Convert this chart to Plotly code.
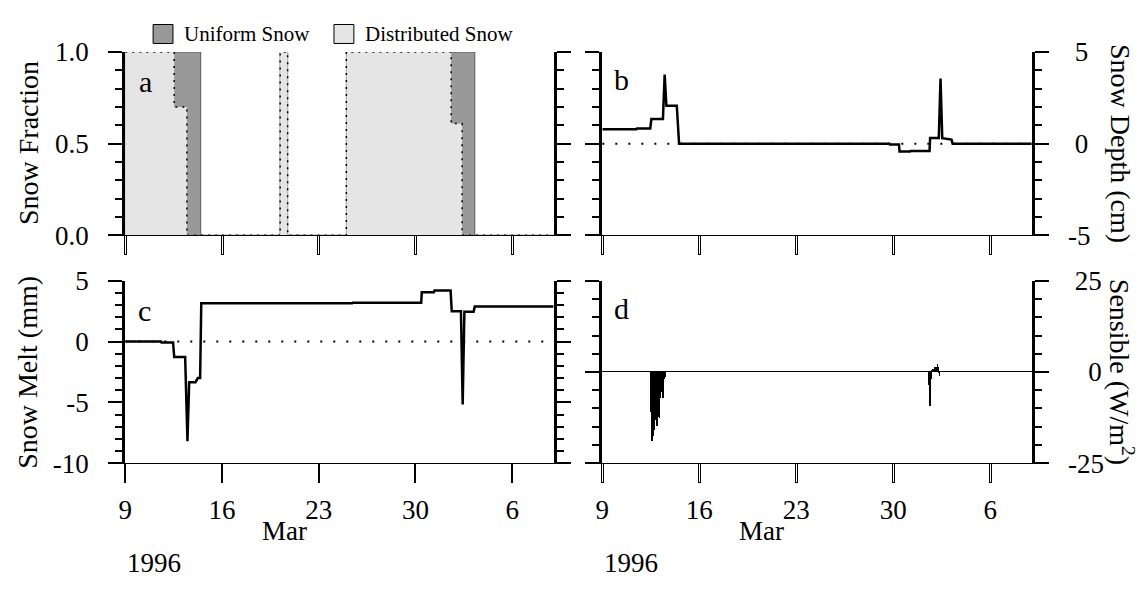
import plotly.graph_objects as go

# ---------------------------------------------------------------- data
# (a) snow-covered fraction of the grid cell
uniform_time = ["1996-03-09 00:00", "1996-03-14 11:00", "1996-03-20 05:00",
                "1996-03-20 18:00", "1996-03-25 00:00", "1996-04-03 07:00",
                "1996-04-09 00:00"]
uniform_frac = [1.0, 0.0, 1.0, 0.0, 1.0, 0.0, 0.0]

dist_time = ["1996-03-09 00:00", "1996-03-12 13:00", "1996-03-13 11:00",
             "1996-03-20 05:00", "1996-03-20 18:00", "1996-03-25 00:00",
             "1996-04-01 14:00", "1996-04-02 09:00", "1996-04-09 00:00"]
dist_frac = [1.0, 0.70, 0.0, 1.0, 0.0, 1.0, 0.61, 0.0, 0.0]

# (b) snow depth difference (cm)
depth_time = ["1996-03-09 00:00", "1996-03-11 11:00", "1996-03-11 12:00",
              "1996-03-12 11:00", "1996-03-12 13:00", "1996-03-13 09:00",
              "1996-03-13 12:00", "1996-03-13 15:00", "1996-03-14 09:00",
              "1996-03-14 13:00", "1996-03-29 17:00", "1996-03-29 18:00",
              "1996-03-30 10:00", "1996-03-30 11:00", "1996-03-31 05:00",
              "1996-03-31 06:00", "1996-04-01 15:00", "1996-04-01 16:00",
              "1996-04-02 07:00", "1996-04-02 10:00", "1996-04-02 13:00",
              "1996-04-03 05:00", "1996-04-03 07:00", "1996-04-09 00:00"]
depth_cm = [0.78, 0.78, 0.83, 0.83, 1.34, 1.34, 3.77, 2.07, 2.07, 0.0,
            0.0, -0.04, -0.04, -0.43, -0.43, -0.40, -0.40, 0.31, 0.31, 3.55,
            0.30, 0.22, 0.0, 0.0]

# (c) snow melt difference (mm)
melt_time = ["1996-03-09 00:00", "1996-03-11 14:00", "1996-03-11 15:00",
             "1996-03-12 11:00", "1996-03-12 13:00", "1996-03-13 08:00",
             "1996-03-13 12:00", "1996-03-13 15:00", "1996-03-14 02:00",
             "1996-03-14 06:00", "1996-03-14 10:00", "1996-03-14 12:00",
             "1996-03-25 10:00", "1996-03-25 11:00", "1996-03-30 10:00",
             "1996-03-30 11:00", "1996-03-31 08:00", "1996-03-31 09:00",
             "1996-04-01 13:00", "1996-04-01 15:00", "1996-04-02 07:00",
             "1996-04-02 10:00", "1996-04-02 13:00", "1996-04-03 05:00",
             "1996-04-03 07:00", "1996-04-09 00:00"]
melt_mm = [0.0, 0.0, -0.08, -0.08, -1.26, -1.26, -8.2, -3.34, -3.34, -3.0,
           -3.0, 3.15, 3.15, 3.2, 3.2, 4.06, 4.06, 4.2, 4.2, 2.49, 2.49,
           -5.17, 2.45, 2.45, 2.88, 2.88]

# (d) sensible heat flux difference, hourly (W/m2)
sens_time = ["1996-03-12 12:00", "1996-03-12 13:00", "1996-03-12 14:00",
             "1996-03-12 15:00", "1996-03-12 16:00", "1996-03-12 17:00",
             "1996-03-12 18:00", "1996-03-12 19:00", "1996-03-12 20:00",
             "1996-03-12 21:00", "1996-03-12 22:00", "1996-03-12 23:00",
             "1996-03-13 00:00", "1996-03-13 01:00", "1996-03-13 02:00",
             "1996-03-13 03:00", "1996-03-13 04:00", "1996-03-13 05:00",
             "1996-03-13 06:00", "1996-03-13 07:00", "1996-03-13 08:00",
             "1996-03-13 09:00", "1996-03-13 10:00", "1996-03-13 11:00",
             "1996-03-13 12:00", "1996-03-13 13:00", "1996-03-13 14:00",
             "1996-04-01 15:00", "1996-04-01 16:00", "1996-04-01 17:00",
             "1996-04-01 18:00", "1996-04-01 19:00", "1996-04-01 20:00",
             "1996-04-01 21:00", "1996-04-01 22:00", "1996-04-01 23:00",
             "1996-04-02 00:00", "1996-04-02 01:00", "1996-04-02 02:00",
             "1996-04-02 03:00", "1996-04-02 04:00", "1996-04-02 05:00",
             "1996-04-02 06:00", "1996-04-02 07:00", "1996-04-02 08:00",
             "1996-04-02 09:00"]
sens_wm2 = [-10.5, -11.0, -16.0, -18.9, -17.5, -17.1, -14.0, -15.8, -12.0,
            -13.2, -11.5, -14.9, -11.0, -10.5, -12.3, -9.0, -12.7, -7.0,
            -5.5, -4.0, -3.0, -2.5, -7.0, -1.5, -1.8, -0.5, -1.2,
            -3.5, -9.4, -4.4, -2.0, 0.5, 0.6, 0.9, 0.8, 1.0, 1.3, 1.5, 1.4,
            1.5, 1.2, 2.2, 1.3, 0.4, 0.2, -1.1]

x_range = ["1996-03-09", "1996-04-09"]
tick_dates = ["1996-03-09", "1996-03-16", "1996-03-23", "1996-03-30", "1996-04-06"]
tick_text = ["9", "16", "23", "30", "6"]

frac_ticks = [0.0, 0.5, 1.0]
frac_text = ["0.0", "0.5", "1.0"]
depth_ticks = [-5, 0, 5]
depth_text = ["-5", "\u20080", "\u20085"]
melt_ticks = [-10, -5, 0, 5]
melt_text = ["-10", "-5", "0", "5"]
sens_ticks = [-25, 0, 25]
sens_text = ["-25", "\u2007\u20080", "\u200825"]

# ---------------------------------------------------------------- layout helpers
W, H = 1145, 593
FONT = "Liberation Serif, Times New Roman, serif"
TICK_FS = 27
TITLE_FS = 28


def px(x):
    return x / W


def py(y):
    return 1 - y / H


COL_L = [px(119), px(550)]
COL_R = [px(599), px(1031)]
ROW_T = [py(232), py(39)]
ROW_B = [py(472), py(280)]


def x_axis(domain, anchor, labels, solid):
    return dict(
        domain=domain, anchor=anchor, type="date", range=x_range,
        tickmode="array", tickvals=tick_dates, ticktext=tick_text,
        showticklabels=labels, ticks="outside", ticklen=19,
        tickwidth=2 if solid else 3, tickcolor="black",
        showline=True, linecolor="black", linewidth=1,
        showgrid=False, zeroline=False, ticklabelstandoff=3,
        tickfont=dict(family=FONT, size=TICK_FS, color="black"),
    )


def x_overlay(over, anchor):
    # white core over the black ticks -> hollow double-line tick marks
    return dict(
        overlaying=over, anchor=anchor, type="date", range=x_range,
        tickmode="array", tickvals=tick_dates, showticklabels=False,
        ticks="outside", ticklen=18, tickwidth=1, tickcolor="white",
        showline=False, showgrid=False, zeroline=False,
    )


def y_axis(domain, anchor, rng, vals, text, minor, side, **kw):
    d = dict(
        domain=domain, anchor=anchor, range=rng, side=side,
        tickmode="array", tickvals=vals, ticktext=text,
        ticks="outside", ticklen=14, tickwidth=1.5, tickcolor="black",
        showline=True, linecolor="black", linewidth=3, mirror="ticks",
        minor=dict(dtick=minor, ticks="outside", ticklen=7, tickwidth=2,
                   tickcolor="black", showgrid=False),
        showgrid=False, zeroline=False, ticklabelstandoff=14,
        tickfont=dict(family=FONT, size=TICK_FS, color="black"),
    )
    d.update(kw)
    return d


fig = go.Figure()

# (a) uniform snow behind, distributed snow in front
fig.add_trace(go.Scatter(
    x=uniform_time, y=uniform_frac, mode="lines",
    line=dict(shape="hv", color="#555555", width=1),
    fill="tozeroy", fillcolor="#999999", xaxis="x", yaxis="y",
    name="Uniform Snow"))
fig.add_trace(go.Scatter(
    x=dist_time, y=dist_frac, mode="lines",
    line=dict(shape="hv", color="black", width=1.5, dash="2px,5px"),
    fill="tozeroy", fillcolor="#e5e5e5", xaxis="x", yaxis="y",
    name="Distributed Snow"))

# (b) snow depth
fig.add_trace(go.Scatter(
    x=depth_time, y=depth_cm, mode="lines",
    line=dict(color="black", width=2.5), xaxis="x2", yaxis="y2"))

# (c) snow melt
fig.add_trace(go.Scatter(
    x=melt_time, y=melt_mm, mode="lines",
    line=dict(color="black", width=2.5), xaxis="x3", yaxis="y3"))

# (d) sensible heat flux as hourly impulses
fig.add_trace(go.Bar(
    x=sens_time, y=sens_wm2, width=3600000,
    marker=dict(color="black", line=dict(width=0)), xaxis="x4", yaxis="y4"))

# empty traces so the tick-overlay axes get drawn
for xa, ya in (("x5", "y"), ("x6", "y2"), ("x7", "y4")):
    fig.add_trace(go.Scatter(x=[], y=[], xaxis=xa, yaxis=ya,
                             hoverinfo="skip", showlegend=False))

# dotted zero reference lines
for xr, yr in (("x2 domain", "y2"), ("x3 domain", "y3")):
    fig.add_shape(type="line", xref=xr, yref=yr, x0=0, x1=1, y0=0, y1=0,
                  line=dict(color="black", width=2, dash="2px,11px"),
                  layer="below")

fig.update_layout(
    width=W, height=H, autosize=False,
    margin=dict(l=0, r=0, t=0, b=0),
    paper_bgcolor="white", plot_bgcolor="white",
    showlegend=False, bargap=0,
    font=dict(family=FONT, size=TICK_FS, color="black"),
    xaxis=x_axis(COL_L, "y", False, False),
    xaxis2=x_axis(COL_R, "y2", False, False),
    xaxis3=x_axis(COL_L, "y3", True, True),
    xaxis4=x_axis(COL_R, "y4", True, False),
    xaxis5=x_overlay("x", "y"),
    xaxis6=x_overlay("x2", "y2"),
    xaxis7=x_overlay("x4", "y4"),
    yaxis=y_axis(ROW_T, "x", [0, 1], frac_ticks, frac_text, 0.1, "left"),
    yaxis2=y_axis(ROW_T, "x2", [-5, 5], depth_ticks, depth_text, 1, "right"),
    yaxis3=y_axis(ROW_B, "x3", [-10, 5], melt_ticks, melt_text, 1, "left"),
    yaxis4=y_axis(ROW_B, "x4", [-25, 25], sens_ticks, sens_text, 5, "right",
                  zeroline=True, zerolinecolor="black", zerolinewidth=1),
)

ann = []


def text(x, y, s, size=TICK_FS, angle=0, xanchor="center", xref="paper"):
    ann.append(dict(x=x, y=y, xref=xref, yref="paper", text=s,
                    showarrow=False, textangle=angle, xanchor=xanchor,
                    yanchor="middle",
                    font=dict(family=FONT, size=size, color="black")))


# panel letters
text(px(139), py(70), "a", size=30)
text(px(618), py(68), "b", size=30)
text(px(138), py(311), "c", size=30)
text(px(618), py(309), "d", size=30)

# axis titles
text(px(21), py(135), "Snow Fraction", size=TITLE_FS, angle=-90)
text(px(21), py(376), "Snow Melt (mm)", size=TITLE_FS, angle=-90)
text(px(1121), py(135), "Snow Depth (cm)", size=TITLE_FS, angle=90)
text(px(1121), py(376), "Sensible (W/m<sup>2</sup>)", size=TITLE_FS, angle=90)

# month / year labels under the date axes
text("1996-03-20 12:00", py(543), "Mar", xref="x3")
text("1996-03-20 12:00", py(543), "Mar", xref="x4")
text(px(119), py(577), "1996", xanchor="left")
text(px(599), py(577), "1996", xanchor="left")

# legend
legend_items = [("Uniform Snow", "#999999", 147), ("Distributed Snow", "#e5e5e5", 329)]
for label, colour, x0 in legend_items:
    fig.add_shape(type="rect", xref="paper", yref="paper",
                  x0=px(x0), x1=px(x0 + 20), y0=py(30), y1=py(10),
                  fillcolor=colour, line=dict(color="black", width=1))
    text(px(x0 + 29), py(20), label, size=21, xanchor="left")

fig.update_layout(annotations=ann)
fig.write_html("out.html")
